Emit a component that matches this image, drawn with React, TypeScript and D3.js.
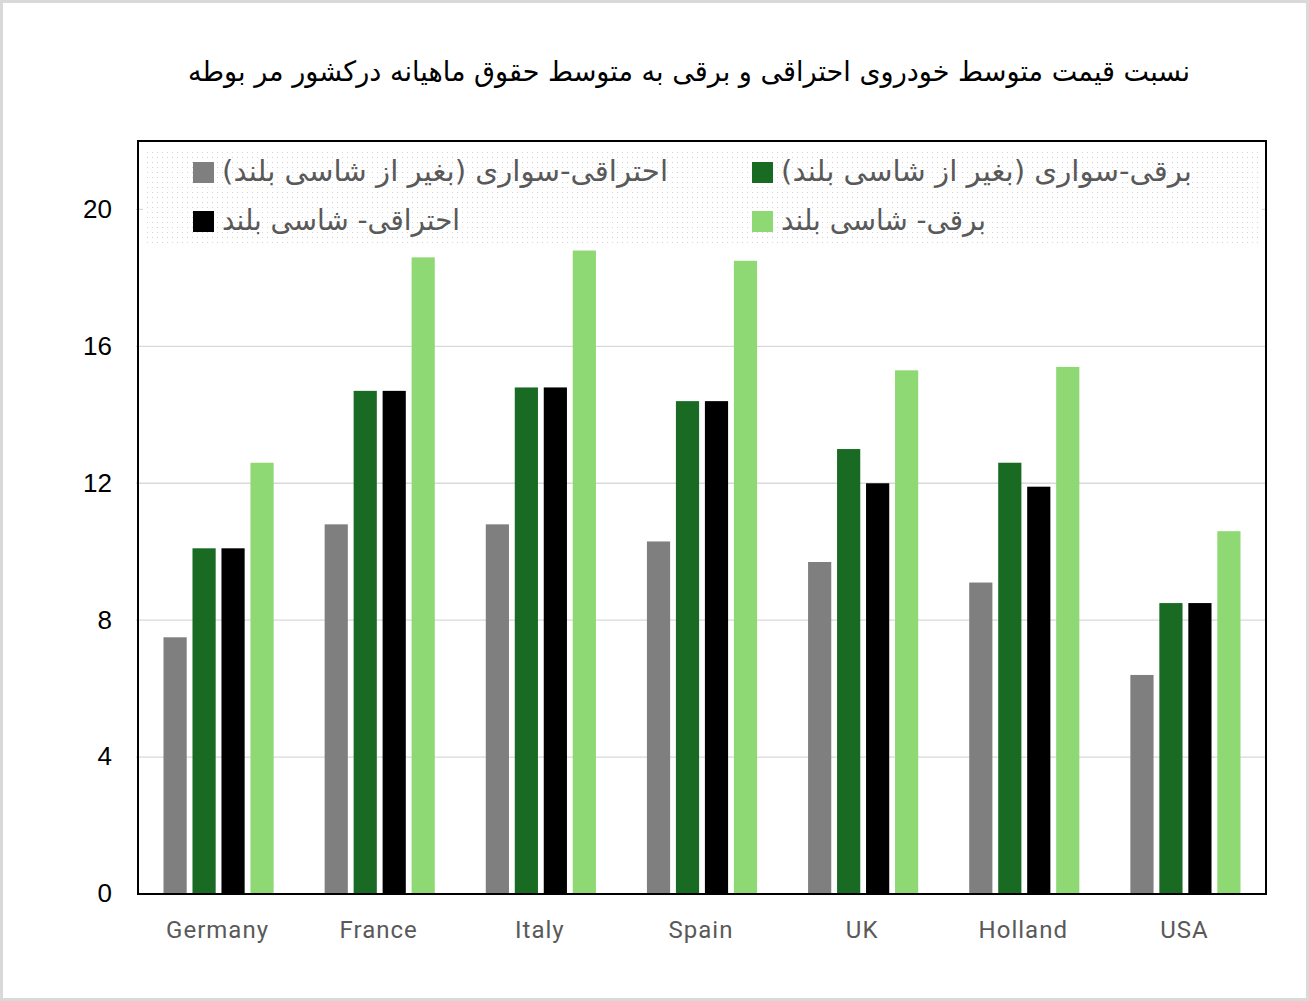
import * as React from 'react';
import * as d3 from 'd3';

const width = 1309;
const height = 1001;
const frame = { left: 138, right: 1266, top: 141, bottom: 894 };

const countries = ['Germany', 'France', 'Italy', 'Spain', 'UK', 'Holland', 'USA'];
const seriesNames = [
    'احتراقی-سواری (بغیر از شاسی بلند)',
    'برقی-سواری (بغیر از شاسی بلند)',
    'احتراقی- شاسی بلند',
    'برقی- شاسی بلند',
];
const seriesColors = ['#7f7f7f', '#196b24', '#000000', '#8ed973'];

const combustionSedan = [7.5, 10.8, 10.8, 10.3, 9.7, 9.1, 6.4];
const electricSedan = [10.1, 14.7, 14.8, 14.4, 13.0, 12.6, 8.5];
const combustionSuv = [10.1, 14.7, 14.8, 14.4, 12.0, 11.9, 8.5];
const electricSuv = [12.6, 18.6, 18.8, 18.5, 15.3, 15.4, 10.6];
const seriesValues = [combustionSedan, electricSedan, combustionSuv, electricSuv];

const yTicks = [0, 4, 8, 12, 16, 20];
const title = 'نسبت قیمت متوسط خودروی احتراقی و برقی به متوسط حقوق ماهیانه درکشور مر بوطه';

// legend layout: [series index, column x, row y]
const legendSlots: Array<[number, number, number]> = [
    [0, 193, 162],
    [1, 752, 162],
    [2, 193, 211],
    [3, 752, 211],
];
const legendTextWidths = [446, 411, 238, 205];

const arabicFont = '"DejaVu Sans", sans-serif';

export default function App() {
    const xScale = d3.scaleBand<string>()
        .domain(countries)
        .range([frame.left, frame.right])
        .padding(0);

    const inner = d3.scaleBand<number>()
        .domain(d3.range(seriesNames.length))
        .range([25.5, xScale.bandwidth() - 25.5])
        .paddingInner(0.2);

    const yScale = d3.scaleLinear()
        .domain([0, 22])
        .range([frame.bottom, frame.top]);

    return <svg width={width} height={height}
        style={{ position: 'absolute', left: 0, top: 0, background: '#fff' }}>
        <defs>
            <pattern id="dots" width={5} height={5} patternUnits="userSpaceOnUse">
                <rect width={5} height={5} fill="#fff" />
                <rect x={2} y={2} width={1} height={1} fill="#d4d4d4" />
            </pattern>
        </defs>
        <rect x={1.5} y={1.5} width={width - 3} height={height - 3}
            fill="#fff" stroke="#d9d9d9" strokeWidth={3} />

        <text x={689} y={81} textAnchor="middle" direction="rtl"
            fontFamily={arabicFont} fontSize={28} fill="#000"
            textLength={1002} lengthAdjust="spacingAndGlyphs">{title}</text>

        {/* gridlines */}
        {yTicks.filter(t => t > 0).map(t =>
            <line key={t} x1={frame.left - 2} x2={frame.right} y1={yScale(t)} y2={yScale(t)}
                stroke="#d9d9d9" strokeWidth={1.3} />
        )}

        {/* y tick labels */}
        {yTicks.map(t =>
            <text key={t} x={112} y={yScale(t)} dy="0.32em" textAnchor="end"
                fontFamily='"Liberation Sans", Arial, sans-serif' fontSize={26} fill="#000">{t}</text>
        )}

        {/* bars */}
        {seriesValues.map((vals, si) =>
            <g key={si} fill={seriesColors[si]}>
                {vals.map((v, ci) =>
                    <rect key={ci}
                        x={(xScale(countries[ci]) || 0) + (inner(si) || 0)}
                        y={yScale(v)}
                        width={inner.bandwidth()}
                        height={yScale(0) - yScale(v)} />
                )}
            </g>
        )}

        {/* x labels */}
        {countries.map(c =>
            <text key={c} x={(xScale(c) || 0) + xScale.bandwidth() / 2 - 1} y={930} dy="0.35em"
                textAnchor="middle" fontFamily="Roboto, sans-serif" fontSize={24} letterSpacing={1}
                fill="#595959">{c}</text>
        )}

        {/* legend */}
        <rect x={143} y={148} width={1119} height={96} fill="url(#dots)" />
        {legendSlots.map(([si, lx, ly], i) =>
            <g key={si}>
                <rect x={lx} y={ly} width={21} height={21} fill={seriesColors[si]} />
                <text x={lx + 29} y={ly + 19} textAnchor="end" direction="rtl"
                    fontFamily={arabicFont} fontSize={29} fill="#595959"
                    textLength={legendTextWidths[i]} lengthAdjust="spacingAndGlyphs">{seriesNames[si]}</text>
            </g>
        )}

        <rect x={frame.left} y={frame.top} width={frame.right - frame.left} height={frame.bottom - frame.top}
            fill="none" stroke="#000" strokeWidth={2} />
    </svg>;
}
